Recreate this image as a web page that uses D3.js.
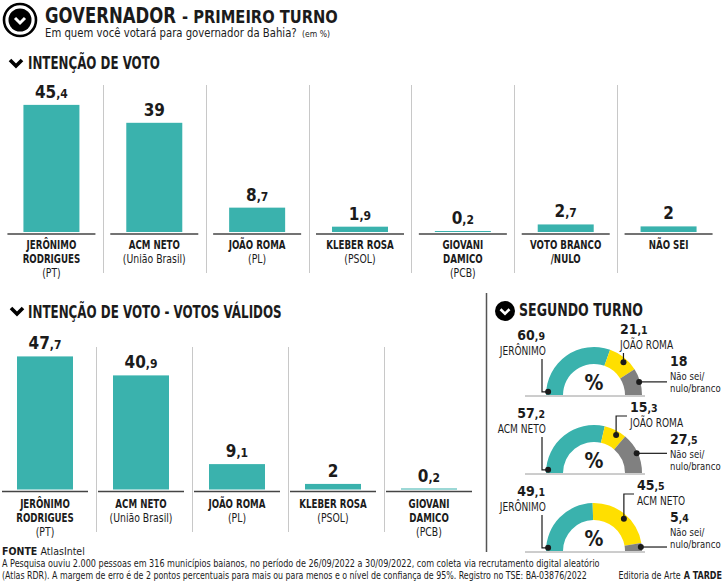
<!DOCTYPE html>
<html><head><meta charset="utf-8">
<script src="https://cdn.jsdelivr.net/npm/d3@7"></script>
<style>
html,body{margin:0;padding:0;background:#fff;}
svg{display:block;}
text{font-family:"Liberation Sans Narrow","DejaVu Sans Condensed","Roboto Condensed",sans-serif;fill:#1b1b1b;}
</style></head>
<body>
<svg id="c" width="724" height="582"></svg>
<script>
// ---------- DATA ----------
const topCats = ["JERÔNIMO RODRIGUES","ACM NETO","JOÃO ROMA","KLEBER ROSA","GIOVANI DAMICO","VOTO BRANCO /NULO","NÃO SEI"];
const topLines = [["JERÔNIMO","RODRIGUES"],["ACM NETO"],["JOÃO ROMA"],["KLEBER ROSA"],["GIOVANI","DAMICO"],["VOTO BRANCO","/NULO"],["NÃO SEI"]];
const topParties = ["(PT)","(União Brasil)","(PL)","(PSOL)","(PCB)","",""];
const topValues = [45.4, 39, 8.7, 1.9, 0.2, 2.7, 2];

const validCats = ["JERÔNIMO RODRIGUES","ACM NETO","JOÃO ROMA","KLEBER ROSA","GIOVANI DAMICO"];
const validLines = [["JERÔNIMO","RODRIGUES"],["ACM NETO"],["JOÃO ROMA"],["KLEBER ROSA"],["GIOVANI","DAMICO"]];
const validParties = ["(PT)","(União Brasil)","(PL)","(PSOL)","(PCB)"];
const validValues = [47.7, 40.9, 9.1, 2, 0.2];

const r2TealName = ["JERÔNIMO","ACM NETO","JERÔNIMO"];
const r2Teal = [60.9, 57.2, 49.1];
const r2YellowName = ["JOÃO ROMA","JOÃO ROMA","ACM NETO"];
const r2Yellow = [21.1, 15.3, 45.5];
const r2GrayName = ["Não sei/","nulo/branco"];
const r2Gray = [18, 27.5, 5.4];

// ---------- STYLE ----------
const TEAL="#3ab2ad", YELLOW="#ffdf00", GRAY="#808080", INK="#1b1b1b";
const svg = d3.select("#c");
const W=724;

// condensed text via horizontal scale transform; opts: size, weight, anchor, width (target) or f (factor)
function ctext(parent,x,y,str,o){
  const g=parent.append("g").attr("transform",`translate(${x},${y})`);
  const t=g.append("text").attr("x",0).attr("y",0).attr("font-size",o.size).attr("font-weight",o.weight||"normal")
    .attr("text-anchor",o.anchor||"start").text(str);
  const L=t.node().getComputedTextLength();
  const f = o.width ? o.width/L : (o.f||1);
  g.attr("transform",`translate(${x},${y}) scale(${f},1)`);
  return {g, t, w:L*f};
}
function fmtParts(v){ const s=String(v).replace(".",","); const i=s.indexOf(","); return i<0?[s,""]:[s.slice(0,i),s.slice(i)]; }
function valueLabel(g,x,y,v,big,small,anchor){
  const p=fmtParts(v);
  const t=g.append("text").attr("x",x).attr("y",y).attr("text-anchor",anchor||"middle").attr("font-weight","bold");
  t.append("tspan").attr("font-size",big).text(p[0]);
  if(p[1]) t.append("tspan").attr("font-size",small).text(p[1]);
  return t;
}
function chevron(g,cx,cy,s,color,w){
  g.append("path").attr("d",`M${cx-s},${cy-s/2} L${cx},${cy+s/2} L${cx+s},${cy-s/2}`)
   .attr("fill","none").attr("stroke",color).attr("stroke-width",w).attr("stroke-linecap","butt").attr("stroke-linejoin","miter");
}

// ---------- HEADER ----------
svg.append("circle").attr("cx",20).attr("cy",20).attr("r",16).attr("fill","#fff").attr("stroke","#000").attr("stroke-width",2.6);
svg.append("circle").attr("cx",20).attr("cy",20).attr("r",11.5).attr("fill","#000");
chevron(svg,20,20.5,5,"#fff",3);
ctext(svg,45,22.5,"GOVERNADOR",{size:21,weight:"bold",width:131});
ctext(svg,182,22.5,"- PRIMEIRO TURNO",{size:17,weight:"bold",width:156});
ctext(svg,45,37,"Em quem você votará para governador da Bahia?",{size:12.5,width:252});
ctext(svg,302,37,"(em %)",{size:9,width:28});

// ---------- SECTION TITLES ----------
chevron(svg,16,63,6,"#000",3.6);
ctext(svg,28,69,"INTENÇÃO DE VOTO",{size:17,weight:"bold",width:132});
chevron(svg,17,311,6,"#000",3.6);
ctext(svg,28,318,"INTENÇÃO DE VOTO - VOTOS VÁLIDOS",{size:17,weight:"bold",width:254});

// ---------- BAR CHART FUNCTION ----------
function barChart(cats, lines, parties, values, x, y, offset, sepTop, sepBot, lineHalf, labelY0){
  const g = svg.append("g");
  const bw = x.bandwidth();
  const cx = c => x(c)+bw/2+offset;
  g.selectAll("line.sep").data(cats.slice(1)).join("line")
    .attr("x1",c=>Math.round(x(c))+0.5).attr("x2",c=>Math.round(x(c))+0.5)
    .attr("y1",sepTop).attr("y2",sepBot).attr("stroke","#c8c8c8").attr("stroke-width",1);
  g.selectAll("rect.bar").data(cats).join("rect")
    .attr("x",c=>cx(c)-28).attr("width",56)
    .attr("y",(c,i)=>Math.min(y(values[i]), y(0)-1))
    .attr("height",(c,i)=>Math.max(y(0)-y(values[i]),1))
    .attr("fill",TEAL);
  g.selectAll("line.base").data(cats).join("line")
    .attr("x1",c=>cx(c)-lineHalf).attr("x2",c=>cx(c)+lineHalf)
    .attr("y1",y(0)+2).attr("y2",y(0)+2).attr("stroke","#444").attr("stroke-width",1.5);
  cats.forEach((c,i)=>{ valueLabel(g,cx(c),Math.min(y(values[i]),y(0)-1)-7,values[i],17,12); });
  cats.forEach((c,i)=>{
    lines[i].forEach((ln,k)=>{
      ctext(g,cx(c),labelY0+k*14,ln,{size:11.5,weight:"bold",anchor:"middle",f:0.84});
    });
    if(parties[i]) ctext(g,cx(c),labelY0+lines[i].length*14,parties[i],{size:11.5,anchor:"middle",f:0.9});
  });
}

const xTop = d3.scaleBand().domain(topCats).range([0,720]);
const yTop = d3.scaleLinear().domain([0,50]).range([232,92]);
barChart(topCats, topLines, topParties, topValues, xTop, yTop, 0, 85, 273, 44, 249);

const xBot = d3.scaleBand().domain(validCats).range([0,480]);
const yBot = d3.scaleLinear().domain([0,50]).range([489.5,350]);
barChart(validCats, validLines, validParties, validValues, xBot, yBot, -3, 347, 532, 43, 508);

// ---------- SEGUNDO TURNO ----------
svg.append("line").attr("x1",486.5).attr("x2",486.5).attr("y1",293).attr("y2",552).attr("stroke","#555").attr("stroke-width",1.5);
svg.append("circle").attr("cx",505).attr("cy",311).attr("r",10).attr("fill","#000");
chevron(svg,505,311.5,4.5,"#fff",2.6);
ctext(svg,519,316,"SEGUNDO TURNO",{size:17,weight:"bold",width:124});

const donutCY = [395, 473, 551];
const donutCX = 594;
const yLabelX = [620, 630, 637];
const R0=31, R1=48;
const pie = d3.pie().sort(null).startAngle(-Math.PI/2).endAngle(Math.PI/2);
const arc = d3.arc().innerRadius(R0).outerRadius(R1);
const pt = (a,r,cy)=>[donutCX+r*Math.sin(a), cy-r*Math.cos(a)];

r2Teal.forEach((tv,i)=>{
  const cy=donutCY[i];
  const g=svg.append("g");
  g.append("line").attr("x1",525).attr("x2",645).attr("y1",cy+1).attr("y2",cy+1).attr("stroke","#9a9a9a").attr("stroke-width",1);
  const data=[tv, r2Yellow[i], r2Gray[i]];
  const arcs=pie(data);
  g.selectAll("path").data(arcs).join("path")
    .attr("transform",`translate(${donutCX},${cy})`).attr("d",arc)
    .attr("fill",(d,k)=>[TEAL,YELLOW,GRAY][k]);
  g.append("text").attr("x",donutCX).attr("y",cy-5).attr("text-anchor","middle").attr("font-size",21).attr("font-weight","bold").text("%");

  // teal label
  const tDot=pt(-Math.PI/2+0.07,46,cy);
  g.append("path").attr("d",`M${tDot[0]},${tDot[1]} H542 V${cy-36}`).attr("fill","none").attr("stroke",INK).attr("stroke-width",1.2);
  g.append("circle").attr("cx",tDot[0]).attr("cy",tDot[1]).attr("r",3).attr("fill",INK);
  valueLabel(g,545,cy-55,tv,14,10.5,"end");
  ctext(g,546,cy-40,r2TealName[i],{size:12,anchor:"end",f:0.84});

  // yellow label
  const ya=(arcs[1].startAngle+arcs[1].endAngle)/2+0.06;
  const yDot=pt(ya,44,cy);
  const lx=yLabelX[i];
  const topY=cy-57;
  let d=`M${yDot[0]},${yDot[1]} V${lx>yDot[0]+3?topY:cy-42}`;
  if(lx>yDot[0]+3) d+=` H${lx-3}`;
  g.append("path").attr("d",d).attr("fill","none").attr("stroke",INK).attr("stroke-width",1.2);
  g.append("circle").attr("cx",yDot[0]).attr("cy",yDot[1]).attr("r",3).attr("fill",INK);
  valueLabel(g,lx,cy-61,r2Yellow[i],14,10.5,"start");
  ctext(g,lx,cy-46,r2YellowName[i],{size:12,f:0.84});

  // gray label
  const ga=(arcs[2].startAngle+arcs[2].endAngle)/2;
  const gDot=pt(ga,47,cy);
  g.append("path").attr("d",`M${gDot[0]},${gDot[1]} H667`).attr("fill","none").attr("stroke",INK).attr("stroke-width",1.2);
  g.append("circle").attr("cx",gDot[0]).attr("cy",gDot[1]).attr("r",3).attr("fill",INK);
  valueLabel(g,670,cy-29,r2Gray[i],14,10.5,"start");
  r2GrayName.forEach((n,k)=>ctext(g,670,cy-15+k*12,n,{size:11,f:0.86}));
});

// ---------- FOOTER ----------
const f1=svg.append("text").attr("x",2).attr("y",555).attr("font-size",10.5);
f1.append("tspan").attr("font-weight","bold").text("FONTE ");
f1.append("tspan").text("AtlasIntel");
ctext(svg,2,567,"A Pesquisa ouviu 2.000 pessoas em 316 municípios baianos, no período de 26/09/2022 a 30/09/2022, com coleta via recrutamento digital aleatório",{size:10.5,width:598});
ctext(svg,2,579,"(Atlas RDR). A margem de erro é de 2 pontos percentuais para mais ou para menos e o nível de confiança de 95%. Registro no TSE: BA-03876/2022",{size:10.5,width:586});
const at = ctext(svg,722,579,"A TARDE",{size:10.5,weight:"bold",anchor:"end",f:0.85});
ctext(svg,722-at.w-3,579,"Editoria de Arte",{size:10.5,anchor:"end",f:0.84});
</script>
</body></html>
